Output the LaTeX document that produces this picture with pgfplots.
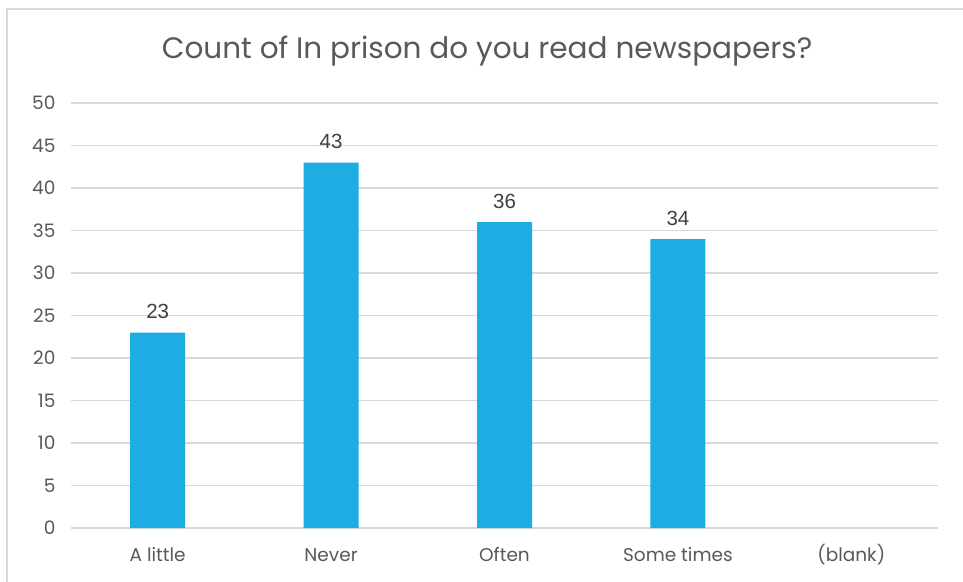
\documentclass[border=0pt]{standalone}
\usepackage{pgfplots}
\pgfplotsset{compat=1.18}
\usepackage{fontspec}
\setmainfont{Poppins}
\newfontfamily\arialf{Liberation Sans}
\definecolor{barblue}{HTML}{1EADE3}
\definecolor{txtgray}{HTML}{595959}
\definecolor{gridgray}{HTML}{D9D9D9}
\definecolor{lblgray}{HTML}{404040}
\begin{document}
\begin{tikzpicture}[x=1pt,y=1pt]
\useasboundingbox (-71,-53) rectangle (892,528);
\fill[white] (-71,-53) rectangle (892,528);
\draw[gridgray, line width=1.5pt] (-64,-60) -- (-64,519) -- (900,519);
\begin{axis}[
  at={(0,0)}, anchor=south west,
  scale only axis, width=867pt, height=425pt,
  xmin=-0.5, xmax=4.5, ymin=0, ymax=50,
  ytick={0,5,...,50},
  xtick={0,1,2,3,4},
  xticklabels={A little, Never, Often, Some times, (blank)},
  axis line style={draw=none},
  major tick length=0pt,
  ymajorgrids, grid style={gridgray, line width=1.2pt},
  /pgf/number format/assume math mode=true,
  tick label style={font=\fontsize{18.5}{22}\selectfont, text=txtgray},
  yticklabel style={anchor=east, xshift=-12pt},
  xticklabel style={anchor=center, yshift=-27pt},
  ybar, bar width=55pt,
  nodes near coords,
  every node near coord/.append style={font=\arialf\fontsize{20.5}{24}\selectfont, text=lblgray, yshift=10pt},
]
\addplot[fill=barblue, draw=none, bar shift=0pt] coordinates {(0,23) (1,43) (2,36) (3,34)};
\end{axis}
\node[text=txtgray, font=\fontsize{29.5}{34}\selectfont] at (416,477) {Count of In prison do you read newspapers?};
\end{tikzpicture}
\end{document}
